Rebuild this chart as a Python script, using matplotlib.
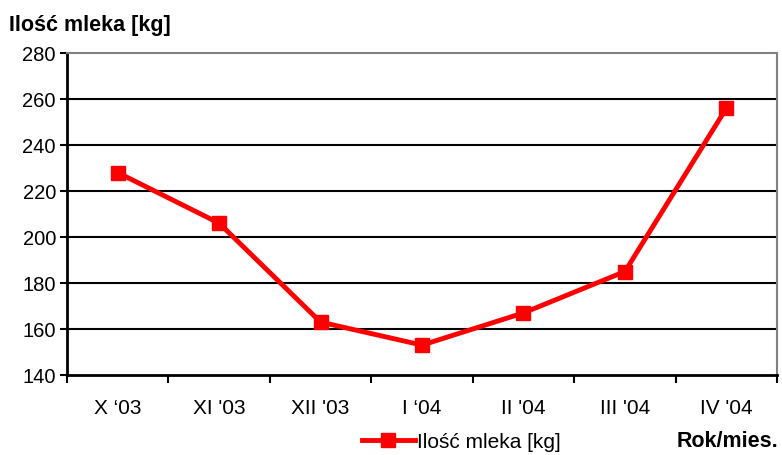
import matplotlib.pyplot as plt
from matplotlib.ticker import FixedLocator

plt.rcParams['font.family'] = ['Liberation Sans', 'DejaVu Sans']

miesiace = ["X \u201803", "XI '03", "XII '03", "I \u201804", "II '04", "III '04", "IV '04"]
mleko = [228, 206, 163, 153, 167, 185, 256]

fig = plt.figure(figsize=(7.82, 4.55), dpi=100)
ax = fig.add_axes([0.0857, 0.1758, 0.908, 0.7077])

x = list(range(len(mleko)))
ax.plot(x, mleko, color='#ff0000', lw=3.5, marker='s', ms=10.5, label='Ilość mleka [kg]')

ax.set_xlim(-0.5, len(mleko) - 0.5)
ax.set_ylim(140, 280)
ax.set_yticks(range(140, 281, 20))
ax.tick_params(axis='y', labelsize=14.5, length=5, width=1.5, direction='out', pad=3)
ax.set_xticks(x)
ax.set_xticklabels(miesiace, fontsize=15)
ax.tick_params(axis='x', which='major', length=0, pad=17)
ax.xaxis.set_minor_locator(FixedLocator([i - 0.5 for i in range(len(mleko) + 1)]))
ax.tick_params(axis='x', which='minor', length=6, width=1.5, direction='out')

for yv in range(160, 280, 20):
    ax.axhline(yv, color='black', lw=1.5, zorder=0)

ax.spines['left'].set_linewidth(2)
ax.spines['bottom'].set_linewidth(2)
ax.spines['top'].set_color('#808080')
ax.spines['top'].set_linewidth(1.5)
ax.spines['right'].set_color('#808080')
ax.spines['right'].set_linewidth(1.5)

fig.text(0.012, 0.945, 'Ilość mleka [kg]', fontsize=15.5, fontweight='bold', ha='left', va='center')
fig.text(0.996, 0.03, 'Rok/mies.', fontsize=15.5, fontweight='bold', ha='right', va='center')

ax.legend(loc='center', bbox_to_anchor=(0.59, 0.028), bbox_transform=fig.transFigure,
          frameon=False, fontsize=15, handlelength=2.5, handletextpad=0.1,
          borderpad=0, borderaxespad=0)

plt.savefig('out.png', dpi=100)
